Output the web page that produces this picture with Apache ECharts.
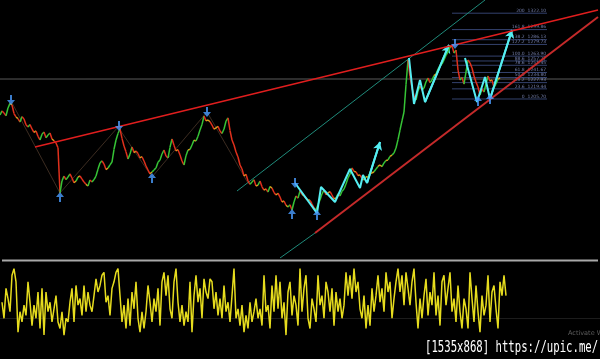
<!DOCTYPE html>
<html>
<head>
<meta charset="utf-8">
<script src="https://cdn.jsdelivr.net/npm/echarts@6/dist/echarts.min.js"></script>
<style>
html,body{margin:0;padding:0;background:#000;}
#chart{width:600px;height:359px;}
</style>
</head>
<body>
<div id="chart"></div>
<script>
// ---- price closes (one bar per index) ----
const closes = [
1184.0,1189.5,1186.7,1183.0,1193.5,1199.8,1197.6,1186.0,1181.3,1179.0,1174.5,1181.8,1178.6,1170.9,1167.7,1171.2,1165.0,1160.5,1162.3,1155.0,
1150.1,1158.0,1160.9,1153.2,1156.9,1159.6,1151.4,1149.0,1146.0,1139.5,1078.2,1094.6,1101.2,1096.3,1099.9,1104.1,1098.5,1092.0,1094.4,1099.7,
1101.2,1097.0,1093.1,1089.9,1087.7,1095.8,1093.1,1096.4,1101.2,1110.6,1118.9,1121.8,1117.5,1110.0,1112.1,1116.3,1120.2,1137.5,1150.1,1158.8,
1165.0,1152.3,1141.9,1134.0,1124.3,1130.9,1140.6,1133.0,1135.2,1131.8,1125.7,1127.4,1121.6,1114.8,1109.4,1104.2,1106.7,1109.5,1112.1,1119.8,
1123.0,1131.1,1136.5,1128.4,1125.7,1140.2,1151.4,1143.0,1135.2,1136.9,1129.7,1121.5,1116.2,1128.8,1136.5,1137.4,1143.3,1149.9,1148.7,1155.1,
1163.6,1171.0,1182.6,1176.0,1177.2,1174.9,1170.4,1164.7,1166.4,1168.5,1162.3,1158.9,1165.0,1175.7,1180.0,1163.0,1150.1,1143.4,1133.8,1127.0,
1116.2,1110.9,1101.2,1103.5,1094.4,1090.0,1093.1,1096.2,1087.7,1088.9,1094.4,1086.5,1082.2,1083.8,1079.5,1087.0,1084.9,1078.8,1075.5,1077.9,
1072.7,1066.0,1067.3,1061.5,1059.2,1062.3,1055.1,1066.0,1074.1,1071.2,1080.9,1076.5,1074.1,1070.8,1068.7,1068.2,1063.3,1058.0,1055.1,1062.6,
1068.7,1077.0,1082.2,1076.0,1078.2,1079.9,1075.5,1070.3,1071.4,1076.9,1074.1,1080.5,1083.6,1090.4,1098.5,1104.0,1112.1,1107.5,1106.7,1101.8,
1102.6,1098.0,1095.8,1100.3,1099.9,1104.8,1105.3,1107.0,1110.7,1114.2,1116.2,1114.0,1118.9,1122.4,1123.0,1127.8,1129.7,1132.5,1139.2,1150.6,
1163.6,1176.0,1188.1,1225.0,1258.6,1236.4,1220.6,1210.0,1204.3,1216.5,1223.3,1217.8,1220.6,1229.0,1234.2,1227.9,1231.5,1237.4,1239.6,1246.1,
1250.5,1253.2,1258.6,1265.0,1269.5,1276.1,1277.6,1268.0,1272.2,1245.0,1231.5,1235.0,1226.0,1242.3,1258.6,1254.7,1247.8,1236.9,1228.8,1222.0,
1211.1,1219.3,1215.2,1226.0,1236.9,1229.8,1231.5,1221.5,1226.0,1232.7,1234.2
];

// ---- zigzag wave patterns [bar, price] ----
const wave1 = [[147.5,1091.7],[158.5,1051.0],[160.5,1086.3],[167.5,1066.0],[175,1110.7],[180,1084.9],[181.5,1102.6],[183.5,1091.7],[190,1147.4]];
const wave2 = [[204.5,1261.3],[207,1198.9],[210,1231.5],[212.5,1201.6],[224.5,1279.0]];
const wave3 = [[232.5,1261.3],[238.5,1201.6],[242.5,1235.5],[245,1205.7],[256,1299.3]];
const swingLine = [[5.5,1203.0],[30,1078.2],[59,1167.7],[76,1099.9],[103.5,1188.1],[124,1091.7]];

// ---- fractal arrows [bar, price] ----
const downArrows = [[5.5,1204.3],[59.5,1169.1],[103.5,1188.1],[147.5,1091.7],[227.5,1280.3]];
const upArrows = [[30,1072.7],[76,1098.5],[146,1049.7],[158.5,1048.3],[239,1203.0],[245,1205.7]];

// ---- trend / channel lines [bar, price] ----
const upperTrend = [[17.5,1140.6],[299,1326.4]];
const lowerTrend = [[157.5,1023.9],[299,1316.9]];
const channelUpper = [[118.5,1080.9],[242.5,1340]];
const channelLower = [[140,990.0],[157.5,1023.9]];
const priceLine = 1232.8;

// ---- fibonacci expansion ----
const fibRatios = ['0','23.6','38.2','50.0','61.8','78.6','88.6','100.0','127.2','138.2','161.8','200'];
const fibPrices = [1205.70,1219.44,1227.93,1234.80,1241.67,1251.45,1257.27,1263.90,1279.73,1286.13,1299.86,1322.10];
const fibStart = 226, fibEnd = 273.5;

// ---- oscillator ----
const osc = [
49,27,68,54,36,86,95,77,8,36,22,45,31,77,49,17,45,27,63,13,68,4,63,36,49,22,40,58,22,13,36,4,27,22,49,68,22,72,45,54,31,72,36,63,45,36,58,81,63,72,86,90,49,58,31,68,77,90,95,58,22,45,13,54,17,63,40,77,27,8,36,13,36,72,49,22,54,36,68,17,77,90,58,86,40,27,
77,95,49,22,45,17,36,22,77,8,58,86,49,68,27,81,63,54,81,77,40,63,31,54,27,72,36,49,22,58,95,27,40,17,45,8,31,13,49,22,36,54,27,40,17,86,36,45,13,72,36,86,40,77,27,49,4,63,77,31,58,45,17,95,36,68,86,27,13,54,40,22,86,45,58,27,77,63,36,68,17,63,36,54,27,45,
90,58,86,54,95,63,77,40,27,58,13,45,17,68,36,58,86,49,68,36,90,63,77,27,54,77,95,63,86,45,90,68,45,77,95,49,13,54,27,58,81,31,63,45,90,31,58,17,77,86,45,68,90,36,54,22,72,36,13,54,40,13,90,54,22,72,36,8,58,31,45,86,22,63,72,40,13,77,58,86,58
];

const chart = echarts.init(document.getElementById('chart'), null, {renderer:'canvas'});

function segColor(d){
  if (d > 2.5) return '#36c436';
  if (d < -2.5) return '#e0301c';
  return '#d9a01e';
}

const arrowDown = 'path://M3,0L5,0L5,5L8,5L4,10L0,5L3,5Z';
const arrowUp = 'path://M4,0L8,5L5,5L5,10L3,10L3,5L0,5Z';

function waveSeries(data){
  return {
    type:'line', xAxisIndex:0, yAxisIndex:0, data:data, symbol:'none', silent:true,
    lineStyle:{color:'#55eef2', width:2}, z:6,
    markLine:{silent:true, symbol:['none','arrow'], symbolSize:[7,8], label:{show:false},
      lineStyle:{color:'#55eef2', width:2, type:'solid'},
      data:[[{coord:data[data.length-2]},{coord:data[data.length-1]}]]}
  };
}
function straight(data,color,width,z){
  return {type:'line', xAxisIndex:0, yAxisIndex:0, data:data, symbol:'none', silent:true,
    lineStyle:{color:color, width:width}, z:z||4};
}

const fibLineData = [];
fibPrices.forEach(function(p){
  fibLineData.push([fibStart,p]); fibLineData.push([fibEnd,p]); fibLineData.push(['-','-']);
});

const option = {
  backgroundColor:'#000',
  animation:false,
  grid:[
    {left:0, right:0, top:0, height:258},
    {left:0, right:0, top:265, height:73}
  ],
  xAxis:[
    {type:'value', gridIndex:0, min:0, max:300, show:false},
    {type:'value', gridIndex:1, min:-1, max:299, show:false}
  ],
  yAxis:[
    {type:'value', gridIndex:0, min:990, max:1340, show:false},
    {type:'value', gridIndex:1, min:0, max:100, show:false}
  ],
  series:[
    {type:'line', xAxisIndex:0, yAxisIndex:0, data:fibLineData, symbol:'none', silent:true,
     connectNulls:false, lineStyle:{color:'#34426e', width:1}, z:2},
    {type:'scatter', xAxisIndex:0, yAxisIndex:0, silent:true, symbolSize:0, z:3,
     data:fibPrices.map(function(p,k){return {value:[fibEnd-0.4,p], name:fibRatios[k]+'  '+p.toFixed(2)};}),
     label:{show:true, position:[0,0], align:'right', verticalAlign:'bottom', formatter:'{b}',
       color:'#8d9ad0', fontSize:4.5, fontFamily:'DejaVu Sans'}},
    {type:'line', xAxisIndex:0, yAxisIndex:0, data:[[0,priceLine],[300,priceLine]], symbol:'none', silent:true,
     lineStyle:{color:'#5a5a5a', width:1}, z:1},
    straight(swingLine,'rgba(110,80,60,0.55)',1,2),
    straight(channelUpper,'#1f8a7a',1,3),
    straight(channelLower,'#1f8a7a',1,3),
    {type:'custom', xAxisIndex:0, yAxisIndex:0, silent:true, z:5,
     data:closes.map(function(c,i){return [i,c];}),
     encode:{x:0,y:1},
     renderItem:function(params, api){
       const i = params.dataIndex;
       if (i === 0) return null;
       const p0 = api.coord([i-1, closes[i-1]]);
       const p1 = api.coord([i, closes[i]]);
       return {type:'line', shape:{x1:p0[0],y1:p0[1],x2:p1[0],y2:p1[1]},
         style:{stroke:segColor(closes[i]-closes[i-1]), lineWidth:1.5}};
     }},
    straight(upperTrend,'#e01e1e',1.5,7),
    straight(lowerTrend,'#c42a2a',2,7),
    waveSeries(wave1), waveSeries(wave2), waveSeries(wave3),
    {type:'scatter', xAxisIndex:0, yAxisIndex:0, data:downArrows, symbol:arrowDown, symbolSize:[8,10],
     itemStyle:{color:'#4a9cff'}, silent:true, z:8},
    {type:'scatter', xAxisIndex:0, yAxisIndex:0, data:upArrows, symbol:arrowUp, symbolSize:[8,10],
     itemStyle:{color:'#4a9cff'}, silent:true, z:8},
    {type:'line', xAxisIndex:1, yAxisIndex:1, data:osc.map(function(v,i){return [i,v];}), symbol:'none', silent:true,
     lineStyle:{color:'#e6dc1e', width:1.5}, z:5,
     markLine:{silent:true, symbol:'none', label:{show:false}, lineStyle:{color:'#1c1c1c', width:1, type:'solid'},
       data:[{yAxis:27}]}}
  ],
  graphic:[
    {type:'line', shape:{x1:2,y1:260.5,x2:598,y2:260.5}, style:{stroke:'#a8a8a8', lineWidth:2}, z:10},
    {type:'text', left:568, top:330, style:{text:'Activate Win', fill:'#5e5e5e', fontSize:6.5, fontFamily:'DejaVu Sans'}, z:10},
    {type:'text', x:425, y:341, scaleX:0.71, style:{text:'[1535x868] https://upic.me/', fill:'#ffffff', fontSize:15, fontFamily:'DejaVu Sans Mono'}, z:10}
  ]
};
chart.setOption(option);
</script>
</body>
</html>
